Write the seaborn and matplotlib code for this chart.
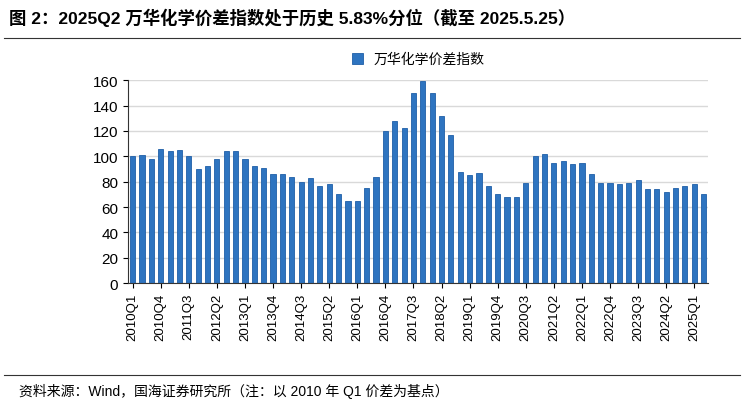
import matplotlib
matplotlib.use("Agg")
import matplotlib.pyplot as plt
import seaborn as sns
import pandas as pd

plt.rcParams["font.family"] = ["Liberation Sans", "Noto Sans CJK SC"]

quarters = [f"{y}Q{q}" for y in range(2010, 2026) for q in range(1, 5)][:62]
values = [100, 101, 98, 106, 104, 105, 100, 90, 92, 98,
          104, 104, 98, 92, 91, 86, 86, 84, 80, 83,
          77, 78, 70, 65, 65, 75, 84, 120, 128, 122,
          150, 159, 150, 132, 117, 88, 85, 87, 77, 70,
          68, 68, 79, 100, 102, 95, 96, 94, 95, 86,
          79, 79, 78, 79, 81, 74, 74, 72, 75, 77,
          78, 70]
series_name = "万华化学价差指数"
title = "图 2：2025Q2 万华化学价差指数处于历史 5.83%分位（截至 2025.5.25）"
source = "资料来源：Wind，国海证券研究所（注：以 2010 年 Q1 价差为基点）"

df = pd.DataFrame({"quarter": quarters, "value": values})

fig = plt.figure(figsize=(7.44, 4.06), dpi=100)
ax = fig.add_axes([0.172, 0.3, 0.78, 0.5])
sns.barplot(data=df, x="quarter", y="value", color="#2E74C0", saturation=1, width=0.55,
            edgecolor="#1F5FA8", linewidth=0.6, label=series_name, ax=ax)
ax.set_ylim(0, 160)
ax.set_yticks(range(0, 161, 20))
ax.set_xlim(-0.5, len(quarters) - 0.5)
ax.set_xticks(range(0, len(quarters), 3))
ax.set_xticklabels(quarters[::3], rotation=90, fontsize=9.5)
ax.tick_params(axis="y", labelsize=11)
ax.set_xlabel("")
ax.set_ylabel("")
ax.yaxis.grid(True, color="#D9D9D9", linewidth=1)
ax.set_axisbelow(True)
for s in ["top", "right"]:
    ax.spines[s].set_visible(False)
ax.spines["left"].set_color("#333333")
ax.spines["bottom"].set_color("#333333")
ax.legend(loc="upper center", bbox_to_anchor=(0.5, 1.2), frameon=False,
          fontsize=10, handlelength=0.8, handleheight=0.8)

fig.text(0.012, 0.955, title, fontsize=12.5, fontweight="bold", va="center")
fig.add_artist(plt.Line2D([0.005, 0.995], [0.905, 0.905], color="#333333", linewidth=0.8))
fig.add_artist(plt.Line2D([0.005, 0.995], [0.075, 0.075], color="#333333", linewidth=0.8))
fig.text(0.025, 0.035, source, fontsize=10, va="center")

fig.savefig("out.png", dpi=100, facecolor="white")
